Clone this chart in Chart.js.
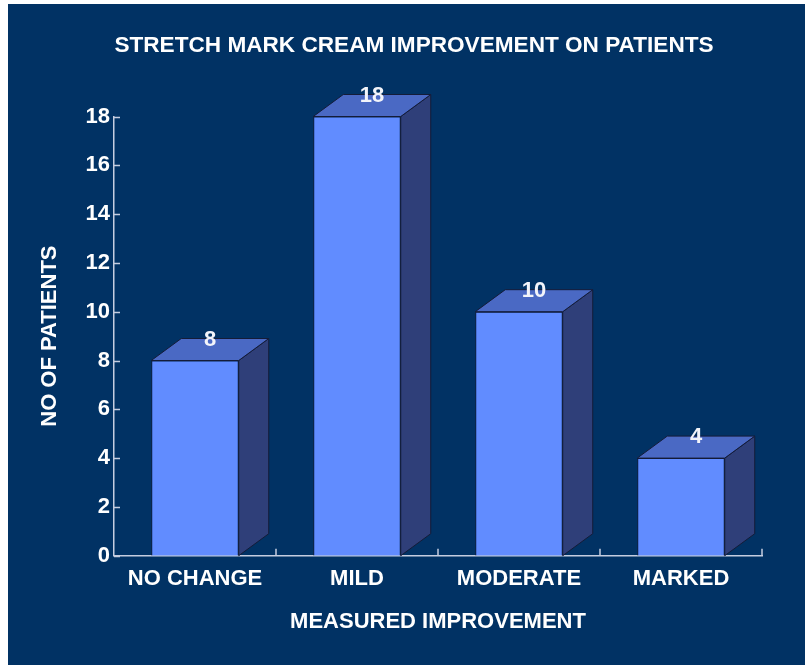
<!DOCTYPE html>
<html>
<head>
<meta charset="utf-8">
<script src="https://cdn.jsdelivr.net/npm/chart.js@4"></script>
<style>
    body { margin: 0; background: #fff; }
    #wrap { position: absolute; left: 8px; top: 4px; width: 797px; height: 661px; background: #013264; }
</style>
</head>
<body>
<div id="wrap"><canvas id="chart" width="797" height="661"></canvas></div>
<script>
const title = "STRETCH MARK CREAM IMPROVEMENT ON PATIENTS"
const categories = ["NO CHANGE", "MILD", "MODERATE", "MARKED"]
const patients = [8, 18, 10, 4]
const yTicks = [0, 2, 4, 6, 8, 10, 12, 14, 16, 18]

const font = "'Liberation Sans', Arial, sans-serif"
const axisColor = "#c5cde0"
const edgeColor = "#141c38"
const frontColor = "#618cff"
const topColor = "#4a69c4"
const sideColor = "#2f3f79"
const depth = { dx: 30, dy: 22 }

// title drawn by hand so it centres on the whole panel
const titlePlugin = {
    id: 'panelTitle',
    beforeDraw(chart) {
        const ctx = chart.ctx
        ctx.save()
        ctx.fillStyle = "#ffffff"
        ctx.font = "bold 22.6px " + font
        ctx.textAlign = "center"
        ctx.textBaseline = "middle"
        ctx.fillText(title, 406, 42)
        ctx.restore()
    }
}

// inward tick marks on both axes
const tickPlugin = {
    id: 'innerTicks',
    afterDraw(chart) {
        const ctx = chart.ctx
        const x = chart.scales.x
        const y = chart.scales.y
        ctx.save()
        ctx.strokeStyle = axisColor
        ctx.lineWidth = 1.5
        ctx.beginPath()
        yTicks.forEach((v) => {
            const py = Math.round(y.getPixelForValue(v)) + 0.5
            ctx.moveTo(x.left, py)
            ctx.lineTo(x.left + 6, py)
        })
        categories.forEach((c, i) => {
            const half = (x.getPixelForValue(1) - x.getPixelForValue(0)) / 2
            const px = x.getPixelForValue(i) + half
            ctx.moveTo(px, y.bottom)
            ctx.lineTo(px, y.bottom - 7)
        })
        ctx.stroke()
        ctx.restore()
    }
}

// side and top faces of each bar plus the value on top
const bars3d = {
    id: 'bars3d',
    afterDatasetsDraw(chart) {
        const ctx = chart.ctx
        const meta = chart.getDatasetMeta(0)
        const { dx, dy } = depth
        meta.data.forEach((bar, i) => {
            const { x, y, base, width } = bar.getProps(['x', 'y', 'base', 'width'], true)
            const l = x - width / 2
            const r = x + width / 2
            ctx.save()
            ctx.lineWidth = 1
            ctx.strokeStyle = edgeColor
            ctx.lineJoin = "round"

            ctx.beginPath()
            ctx.moveTo(r, y)
            ctx.lineTo(r + dx, y - dy)
            ctx.lineTo(r + dx, base - dy)
            ctx.lineTo(r, base)
            ctx.closePath()
            ctx.fillStyle = sideColor
            ctx.fill()
            ctx.stroke()

            ctx.beginPath()
            ctx.moveTo(l, y)
            ctx.lineTo(l + dx, y - dy)
            ctx.lineTo(r + dx, y - dy)
            ctx.lineTo(r, y)
            ctx.closePath()
            ctx.fillStyle = topColor
            ctx.fill()
            ctx.stroke()

            ctx.fillStyle = "#f2f4fa"
            ctx.font = "bold 22px " + font
            ctx.textAlign = "center"
            ctx.textBaseline = "middle"
            ctx.fillText(patients[i], x + dx / 2, y - 21)
            ctx.restore()
        })
    }
}

new Chart(document.getElementById("chart"), {
    type: 'bar',
    data: {
        labels: categories,
        datasets: [{
            data: patients,
            backgroundColor: frontColor,
            borderColor: edgeColor,
            borderWidth: 1,
            categoryPercentage: 1,
            barPercentage: 0.54,
        }]
    },
    options: {
        responsive: false,
        animation: false,
        events: [],
        layout: { padding: { top: 112.5, right: 43, bottom: 0, left: 0 } },
        plugins: {
            legend: { display: false },
            tooltip: { enabled: false },
        },
        scales: {
            x: {
                afterFit: (s) => { s.height = 109.3 },
                grid: { display: false, drawTicks: false },
                border: { display: true, color: axisColor, width: 1.5 },
                ticks: { color: "#ffffff", font: { family: font, size: 22, weight: 'bold' }, padding: 10, maxRotation: 0 },
                title: {
                    display: true, text: "MEASURED IMPROVEMENT", color: "#ffffff",
                    font: { family: font, size: 22, weight: 'bold' }, padding: { top: 10, bottom: 30 }
                },
            },
            y: {
                min: 0,
                max: 18,
                afterFit: (s) => { s.width = 106 },
                grid: { display: false, drawTicks: false },
                border: { display: true, color: axisColor, width: 1.5 },
                ticks: {
                    stepSize: 2, color: "#ffffff", padding: 4,
                    font: { family: font, size: 22, weight: 'bold' },
                },
                title: {
                    display: true, text: "NO OF PATIENTS", color: "#ffffff",
                    font: { family: font, size: 22, weight: 'bold' }, padding: { top: 29, bottom: 6 }
                },
            },
        },
    },
    plugins: [titlePlugin, tickPlugin, bars3d],
})
</script>
</body>
</html>
